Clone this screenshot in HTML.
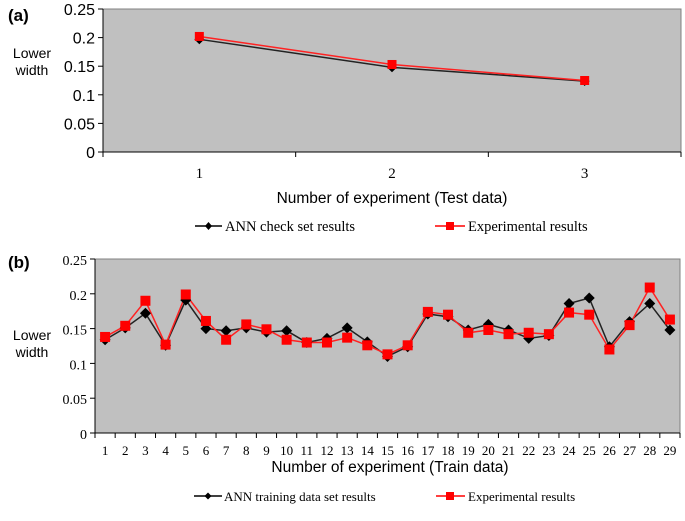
<!DOCTYPE html>
<html><head><meta charset="utf-8"><style>
body{margin:0;background:#fff;width:685px;height:516px;overflow:hidden}
svg text{fill:#000}
.sans{font-family:"Liberation Sans",Arial,sans-serif}
.serif{font-family:"Liberation Serif","Times New Roman",serif}
</style></head><body>
<svg id="svg" width="685" height="516" xmlns="http://www.w3.org/2000/svg">
<text x="8" y="21" class="sans" font-size="17" font-weight="bold">(a)</text>
<text x="8" y="268" class="sans" font-size="17" font-weight="bold">(b)</text>
<text x="27" y="58" class="sans" font-size="14" text-anchor="middle"><tspan x="32">Lower</tspan><tspan x="32" dy="17">width</tspan></text>
<text x="27" y="340" class="sans" font-size="14" text-anchor="middle"><tspan x="32">Lower</tspan><tspan x="32" dy="17">width</tspan></text>
<text x="392" y="203" class="sans" font-size="15.5" text-anchor="middle">Number of experiment (Test data)</text>
<text x="390" y="472" class="sans" font-size="15.5" text-anchor="middle">Number of experiment (Train data)</text>
<g id="ga"></g><g id="gb"></g>
<g>
<line x1="195" y1="226" x2="222" y2="226" stroke="#000" stroke-width="1.5"/><path d="M208.5 222l3.5 4-3.5 4-3.5-4z" fill="#000"/>
<text x="225" y="231" class="serif" font-size="14.5">ANN check set results</text>
<line x1="435" y1="226" x2="465" y2="226" stroke="#f00" stroke-width="1.5"/><rect x="446" y="222" width="8" height="8" fill="#f00"/>
<text x="468" y="231" class="serif" font-size="14.5">Experimental results</text>
</g>
<g>
<line x1="194" y1="496" x2="222" y2="496" stroke="#000" stroke-width="1.5"/><path d="M208 492.5l3.5 3.5-3.5 3.5-3.5-3.5z" fill="#000"/>
<text x="224" y="501" class="serif" font-size="13">ANN training data set results</text>
<line x1="436" y1="496" x2="465" y2="496" stroke="#f00" stroke-width="1.5"/><rect x="446" y="492" width="8" height="8" fill="#f00"/>
<text x="468" y="501" class="serif" font-size="13">Experimental results</text>
</g>
</svg>
<script>
const catsA=[1,2,3];
const annA=[0.197,0.148,0.124];
const expA=[0.202,0.153,0.125];
const catsB=[1,2,3,4,5,6,7,8,9,10,11,12,13,14,15,16,17,18,19,20,21,22,23,24,25,26,27,28,29];
const annB=[0.134,0.151,0.172,0.126,0.191,0.150,0.147,0.151,0.145,0.147,0.130,0.136,0.151,0.131,0.110,0.124,0.171,0.167,0.148,0.156,0.148,0.136,0.140,0.186,0.194,0.124,0.160,0.186,0.148];
const expB=[0.138,0.154,0.190,0.127,0.199,0.161,0.134,0.156,0.149,0.134,0.130,0.130,0.137,0.126,0.113,0.126,0.174,0.170,0.144,0.148,0.142,0.144,0.142,0.173,0.170,0.120,0.155,0.209,0.163];
const yTicks=[0,0.05,0.1,0.15,0.2,0.25];
const yTickLabels=["0","0.05","0.1","0.15","0.2","0.25"];
const NS="http://www.w3.org/2000/svg";
function mk(p,t,a){const e=document.createElementNS(NS,t);for(const k in a)e.setAttribute(k,a[k]);p.appendChild(e);return e;}
function draw(g,cats,ann,exp,L,R,T,B,fs,tickFs,name,ms,yCls){
  const n=cats.length,cw=(R-L)/n;
  const x=i=>L+cw*(i+0.5), y=v=>B-(v/0.25)*(B-T);
  const bg=mk(g,'rect',{x:L,y:T,width:R-L,height:B-T,fill:'#c0c0c0',stroke:'#808080','stroke-width':1});
  
  
  mk(g,'line',{x1:L,y1:T,x2:L,y2:B,stroke:'#000','stroke-width':1});
  mk(g,'line',{x1:L,y1:B,x2:R,y2:B,stroke:'#000','stroke-width':1});
  yTicks.forEach((v,i)=>{
    mk(g,'line',{x1:L-5,y1:y(v),x2:L,y2:y(v),stroke:'#000'});
    const t=mk(g,'text',{x:L-8,y:y(v)+6,'text-anchor':'end','font-size':fs,class:yCls});
    t.textContent=yTickLabels[i];
    
    
  });
  for(let i=0;i<=n;i++) mk(g,'line',{x1:L+cw*i,y1:B,x2:L+cw*i,y2:B+5,stroke:'#000'});
  cats.forEach((c,i)=>{
    const t=mk(g,'text',{x:x(i),y:B+(name==='chart-a'?26:22),'text-anchor':'middle','font-size':tickFs,class:'serif'});
    t.textContent=c;
    
    
  });
  const la=mk(g,'polyline',{points:ann.map((v,i)=>x(i)+','+y(v)).join(' '),fill:'none',stroke:'#222','stroke-width':1.5});
  
  
  const le=mk(g,'polyline',{points:exp.map((v,i)=>x(i)+','+y(v)).join(' '),fill:'none',stroke:'#f22','stroke-width':1.5});
  
  
  ann.forEach((v,i)=>{
    const d=ms*0.55;
    const p=mk(g,'path',{d:`M${x(i)} ${y(v)-d}l${d} ${d}l${-d} ${d}l${-d} ${-d}z`,fill:'#000'});
    
    
  });
  exp.forEach((v,i)=>{
    const r=mk(g,'rect',{x:x(i)-ms/2,y:y(v)-ms/2,width:ms,height:ms,fill:'#f00'});
    
    
  });
}
draw(document.getElementById('ga'),catsA,annA,expA,103,681,9,152,16,15,'chart-a',9,'sans');
draw(document.getElementById('gb'),catsB,annB,expB,95,680,259,433,14,13,'chart-b',10,'serif');
</script>
</body></html>
